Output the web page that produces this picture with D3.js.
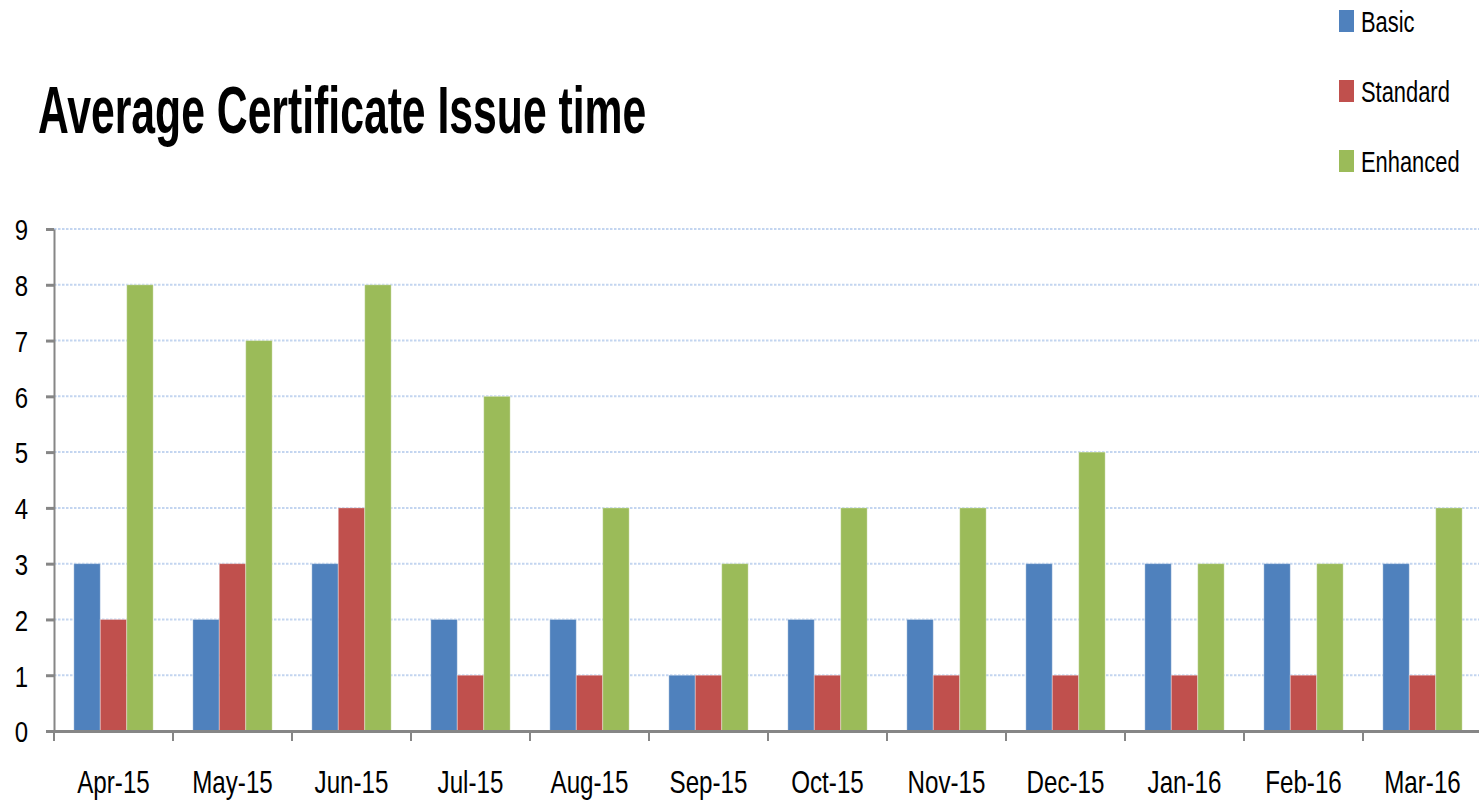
<!DOCTYPE html>
<html>
<head>
<meta charset="utf-8">
<script src="https://cdn.jsdelivr.net/npm/d3@7"></script>
<style>
  body { margin: 0; background: #fff; }
  svg { display: block; }
  text { font-family: "Liberation Sans", Arial, sans-serif; fill: #000; }
</style>
</head>
<body>
<svg id="chart" width="1479" height="803"></svg>
<script>
// data
var months = ['Apr-15', 'May-15', 'Jun-15', 'Jul-15', 'Aug-15', 'Sep-15',
              'Oct-15', 'Nov-15', 'Dec-15', 'Jan-16', 'Feb-16', 'Mar-16'];
var seriesNames = ['Basic', 'Standard', 'Enhanced'];
var basic    = [3, 2, 3, 2, 2, 1, 2, 2, 3, 3, 3, 3];
var standard = [2, 3, 4, 1, 1, 1, 1, 1, 1, 1, 1, 1];
var enhanced = [8, 7, 8, 6, 4, 3, 4, 4, 5, 3, 3, 4];
var yTicks = [0, 1, 2, 3, 4, 5, 6, 7, 8, 9];

var colors = ['#4f81bd', '#c0504d', '#9bbb59'];
var values = [basic, standard, enhanced];

var svg = d3.select('#chart');

// plot area (don't call these top/left, window.top is read only)
var plotLeft = 54, plotRight = 1482, plotTop = 229, plotBottom = 731;

var x0 = d3.scaleBand().domain(months).range([plotLeft, plotRight]).padding(0);
var x1 = d3.scaleBand().domain(seriesNames).range([0, x0.bandwidth()])
    .paddingInner(0).paddingOuter(0.75);
var y = d3.scaleLinear().domain([0, 9]).range([plotBottom, plotTop]);

// title (squeezed like the original)
svg.append('text')
    .attr('transform', 'translate(38,133) scale(0.647,1)')
    .style('font-size', '66px')
    .style('font-weight', 'bold')
    .text('Average Certificate Issue time');

// gridlines
svg.append('g').selectAll('line')
    .data(yTicks.slice(1))
    .enter().append('line')
    .attr('x1', plotLeft).attr('x2', 1479)
    .attr('y1', function (d) { return y(d); })
    .attr('y2', function (d) { return y(d); })
    .attr('stroke', '#c3d5f0')
    .attr('stroke-width', 2)
    .attr('stroke-dasharray', '2.5,1.5');

// bars
var rows = [];
months.forEach(function (m, i) {
    seriesNames.forEach(function (s, k) {
        rows.push({month: m, series: s, value: values[k][i], color: colors[k]});
    });
});

svg.append('g').selectAll('rect')
    .data(rows)
    .enter().append('rect')
    .attr('x', function (d) { return x0(d.month) + x1(d.series); })
    .attr('y', function (d) { return y(d.value); })
    .attr('width', x1.bandwidth())
    .attr('height', function (d) { return y(0) - y(d.value); })
    .attr('fill', function (d) { return d.color; })
    .attr('stroke', '#ffffff')
    .attr('stroke-opacity', 0.35)
    .attr('stroke-width', 1);

// y axis
var yAxis = svg.append('g')
    .attr('transform', 'translate(' + plotLeft + ',0)')
    .call(d3.axisLeft(y).tickValues(yTicks).tickSize(8).tickPadding(0).tickSizeOuter(0));
yAxis.select('.domain').attr('stroke', '#868686').attr('stroke-width', 2);
yAxis.selectAll('.tick line').attr('stroke', '#868686').attr('stroke-width', 3);
yAxis.selectAll('.tick text')
    .attr('x', 0).attr('dy', '0.36em')
    .attr('transform', 'translate(-26,0) scale(0.8,1)')
    .style('font-size', '30px')
    .style('font-family', '"Liberation Sans", Arial, sans-serif');

// x axis
var xAxis = svg.append('g')
    .attr('transform', 'translate(0,' + plotBottom + ')')
    .call(d3.axisBottom(x0).tickSize(0).tickSizeOuter(0));
xAxis.select('.domain').attr('stroke', '#868686').attr('stroke-width', 3);
xAxis.selectAll('.tick line').remove();
xAxis.selectAll('.tick text')
    .attr('y', 0).attr('dy', 0)
    .attr('transform', 'translate(0,62) scale(0.78,1)')
    .style('font-size', '31px')
    .style('font-family', '"Liberation Sans", Arial, sans-serif');

// category separator ticks
svg.append('g').selectAll('line')
    .data(months)
    .enter().append('line')
    .attr('x1', function (d) { return x0(d); })
    .attr('x2', function (d) { return x0(d); })
    .attr('y1', plotBottom).attr('y2', plotBottom + 10)
    .attr('stroke', '#868686')
    .attr('stroke-width', 2);

// legend
var legend = svg.append('g').selectAll('g')
    .data(seriesNames)
    .enter().append('g')
    .attr('transform', function (d, i) { return 'translate(1339,' + (10 + i * 70) + ')'; });
legend.append('rect')
    .attr('width', 15).attr('height', 22)
    .attr('fill', function (d, i) { return colors[i]; });
legend.append('text')
    .attr('transform', 'translate(22,22) scale(0.73,1)')
    .style('font-size', '30px')
    .text(function (d) { return d; });
</script>
</body>
</html>
